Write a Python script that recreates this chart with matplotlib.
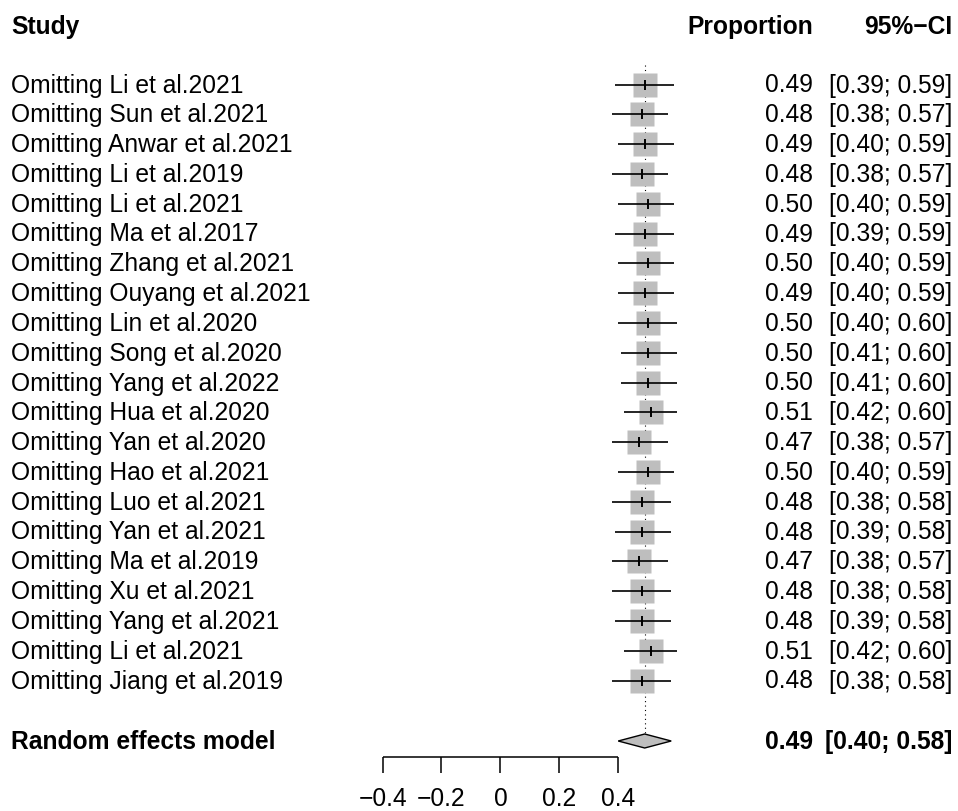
import matplotlib
matplotlib.use("Agg")
import matplotlib.pyplot as plt
from matplotlib.patches import Polygon

plt.rcParams['font.family'] = ['Liberation Sans', 'DejaVu Sans']

studies = ["Omitting Li et al.2021", "Omitting Sun et al.2021", "Omitting Anwar et al.2021",
           "Omitting Li et al.2019", "Omitting Li et al.2021", "Omitting Ma et al.2017",
           "Omitting Zhang et al.2021", "Omitting Ouyang et al.2021", "Omitting Lin et al.2020",
           "Omitting Song et al.2020", "Omitting Yang et al.2022", "Omitting Hua et al.2020",
           "Omitting Yan et al.2020", "Omitting Hao et al.2021", "Omitting Luo et al.2021",
           "Omitting Yan et al.2021", "Omitting Ma et al.2019", "Omitting Xu et al.2021",
           "Omitting Yang et al.2021", "Omitting Li et al.2021", "Omitting Jiang et al.2019"]
prop = [0.49, 0.48, 0.49, 0.48, 0.50, 0.49, 0.50, 0.49, 0.50, 0.50, 0.50,
        0.51, 0.47, 0.50, 0.48, 0.48, 0.47, 0.48, 0.48, 0.51, 0.48]
lower = [0.39, 0.38, 0.40, 0.38, 0.40, 0.39, 0.40, 0.40, 0.40, 0.41, 0.41,
         0.42, 0.38, 0.40, 0.38, 0.39, 0.38, 0.38, 0.39, 0.42, 0.38]
upper = [0.59, 0.57, 0.59, 0.57, 0.59, 0.59, 0.59, 0.59, 0.60, 0.60, 0.60,
         0.60, 0.57, 0.59, 0.58, 0.58, 0.57, 0.58, 0.58, 0.60, 0.58]
pooled_label = "Random effects model"
pooled = 0.49
pooled_lower = 0.40
pooled_upper = 0.58
xticks = [-0.4, -0.2, 0, 0.2, 0.4]
xticklabels = ["\u22120.4", "\u22120.2", "0", "0.2", "0.4"]

W, H = 958, 812
fig = plt.figure(figsize=(W / 100, H / 100), dpi=100)
ax = fig.add_axes([0, 0, 1, 1])
ax.axis('off')

# pixel -> data mapping
x0_px, xscale = 500.4, 294.5
y0_px, yscale = 85.5, 29.8
ax.set_xlim((0 - x0_px) / xscale, (W - x0_px) / xscale)
ax.set_ylim((H - y0_px) / yscale, (0 - y0_px) / yscale)

def px_x(p):
    return (p - x0_px) / xscale

def px_y(p):
    return (p - y0_px) / yscale

fs = 17.7
n = len(studies)
rows = list(range(n))

# dotted reference line at pooled estimate
ax.plot([pooled, pooled], [px_y(66), px_y(734)], color='black', lw=0.8,
        linestyle=(0, (1, 3)), zorder=1)

# boxes, CIs, point ticks
ax.plot(prop, rows, linestyle='none', marker='s', ms=17.0, mfc='#BEBEBE',
        mec='none', zorder=2)
for i in rows:
    ax.plot([lower[i], upper[i]], [i, i], color='black', lw=1.2, zorder=3,
            solid_capstyle='butt')
ax.plot(prop, rows, linestyle='none', marker='|', ms=6.5, mew=1.4,
        color='black', zorder=4)

# pooled diamond
yd = px_y(742)
hh = 7.0 / yscale
diamond = Polygon([[pooled_lower, yd], [pooled, yd - hh], [pooled_upper, yd],
                   [pooled, yd + hh]], closed=True, facecolor='#BEBEBE',
                  edgecolor='black', lw=1.0, zorder=3)
ax.add_patch(diamond)

# x axis
ya = px_y(758)
yt = px_y(774)
ax.plot([xticks[0], xticks[-1]], [ya, ya], color='black', lw=1.1,
        solid_capstyle='butt')
for t, lab in zip(xticks, xticklabels):
    ax.plot([t, t], [ya, yt], color='black', lw=1.1, solid_capstyle='butt')
    ax.text(t, px_y(799), lab, ha='center', va='center', fontsize=fs)

# texts
xl = px_x(11)
xp = px_x(813)
xc = px_x(952)
yh = px_y(27)
ax.text(xl, yh, "Study", ha='left', va='center', fontsize=fs, fontweight='bold')
ax.text(xp, yh, "Proportion", ha='right', va='center', fontsize=fs, fontweight='bold')
ax.text(xc, yh, "95%\u2212CI", ha='right', va='center', fontsize=fs, fontweight='bold')

for i in rows:
    ax.text(xl, i, studies[i], ha='left', va='center', fontsize=fs)
    ax.text(xp, i, f"{prop[i]:.2f}", ha='right', va='center', fontsize=fs)
    ax.text(xc, i, f"[{lower[i]:.2f}; {upper[i]:.2f}]", ha='right', va='center',
            fontsize=fs)

ax.text(xl, yd, pooled_label, ha='left', va='center', fontsize=fs, fontweight='bold')
ax.text(xp, yd, f"{pooled:.2f}", ha='right', va='center', fontsize=fs, fontweight='bold')
ax.text(xc, yd, f"[{pooled_lower:.2f}; {pooled_upper:.2f}]", ha='right', va='center',
        fontsize=fs, fontweight='bold')

fig.savefig("out.png", dpi=100, facecolor='white')
